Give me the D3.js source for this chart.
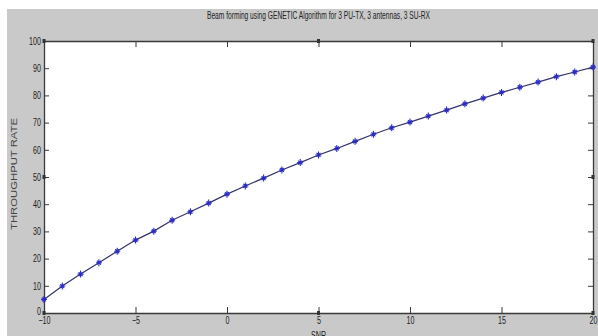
<!DOCTYPE html>
<html><head><meta charset="utf-8">
<script src="https://cdn.jsdelivr.net/npm/d3@7"></script>
<style>
body{margin:0;background:#fff;}
text{font-family:"Liberation Sans",Arial,sans-serif;}
</style></head>
<body><svg id="c" width="598" height="336"></svg>
<script>
const snr = d3.range(-10, 21);
const throughput = [5.0, 9.9, 14.3, 18.5, 22.7, 26.8, 30.1, 34.1, 37.2, 40.4, 43.7,
  46.7, 49.6, 52.6, 55.3, 58.1, 60.5, 63.1, 65.7, 68.1, 70.2,
  72.4, 74.6, 76.9, 79.0, 81.1, 83.0, 84.9, 86.9, 88.6, 90.4];
const xTicks = [-10, -5, 0, 5, 10, 15, 20];
const yTicks = [0, 10, 20, 30, 40, 50, 60, 70, 80, 90, 100];
const titleText = "Beam forming using GENETIC Algorithm for 3 PU-TX, 3 antennas, 3 SU-RX";
const xLabel = "SNR";
const yLabel = "THROUGHPUT RATE";

const svg = d3.select("#c");
const L = 44, R = 593, T = 41, B = 313;
const SX = 0.68; // horizontal squeeze for the narrow Matlab-like font
svg.append("rect").attr("x", 7).attr("y", 9).attr("width", 591).attr("height", 327).attr("fill", "#c9c9c9");
svg.append("rect").attr("x", L).attr("y", T).attr("width", R - L).attr("height", B - T).attr("fill", "#fff");

const x = d3.scaleLinear().domain([-10, 20]).range([L, R]);
const y = d3.scaleLinear().domain([0, 100]).range([B, T]);
const axCol = "#3a3a3a";

const axB = svg.append("g").attr("transform", `translate(0,${B})`)
  .call(d3.axisBottom(x).tickValues(xTicks).tickSizeInner(-6).tickSizeOuter(0).tickPadding(5).tickFormat(d3.format("d")));
const axT = svg.append("g").attr("transform", `translate(0,${T})`)
  .call(d3.axisTop(x).tickValues(xTicks).tickSizeInner(-6).tickSizeOuter(0).tickFormat(""));
const axL = svg.append("g").attr("transform", `translate(${L},0)`)
  .call(d3.axisLeft(y).tickValues(yTicks).tickSizeInner(-5).tickSizeOuter(0).tickPadding(0).tickFormat(d3.format("d")));
const axR = svg.append("g").attr("transform", `translate(${R},0)`)
  .call(d3.axisRight(y).tickValues(yTicks).tickSizeInner(-5).tickSizeOuter(0).tickFormat(""));
[axB, axT, axL, axR].forEach(g => {
  g.select(".domain").attr("stroke", axCol).attr("stroke-width", 1.3);
  g.selectAll(".tick line").attr("stroke", axCol).attr("stroke-width", 1);
  g.selectAll("text").attr("fill", "#222").attr("font-size", 10.5);
});
axB.selectAll("text").attr("dy", "0.62em").attr("transform", `scale(${SX},1)`);
axL.selectAll("text").attr("x", -3 / SX).attr("transform", `scale(${SX},1)`)
  .attr("dy", d => d === 0 ? "0.1em" : "0.32em");

// small dark squares seen on the axes
const sq = [[x(5), T], [x(20), T], [x(5), B], [x(20), B], [L, y(100)], [L, y(50)], [L, y(0)], [R, y(50)]];
svg.selectAll("rect.sq").data(sq).join("rect").attr("class", "sq")
  .attr("x", d => d[0] - 1.5).attr("y", d => d[1] - 2).attr("width", 3).attr("height", 4).attr("fill", "#333");

const line = d3.line().x((d, i) => x(snr[i])).y(d => y(d));
svg.append("path").datum(throughput).attr("d", line).attr("fill", "none")
  .attr("stroke", "#34346e").attr("stroke-width", 1.2);

const mk = svg.append("g").selectAll("g").data(throughput).join("g")
  .attr("transform", (d, i) => `translate(${x(snr[i])},${y(d)})`);
mk.append("path").attr("d", "M-3,0H3M0,-3.5V3.5M-2,-2L2,2M-2,2L2,-2")
  .attr("stroke", "#2b2bc4").attr("stroke-width", 1.1).attr("fill", "none");

svg.append("text").attr("x", (L + R) / 2).attr("y", 19).attr("text-anchor", "middle")
  .attr("font-size", 10).attr("fill", "#222")
  .attr("textLength", 223).attr("lengthAdjust", "spacingAndGlyphs").text(titleText);
svg.append("text").attr("transform", `translate(${(L + R) / 2},338.5) scale(${SX},1)`).attr("text-anchor", "middle")
  .attr("font-size", 10.5).attr("fill", "#222").text(xLabel);
svg.append("text").attr("transform", `translate(17,174) rotate(-90)`).attr("text-anchor", "middle")
  .attr("font-size", 9.5).attr("fill", "#444")
  .attr("textLength", 112).attr("lengthAdjust", "spacingAndGlyphs").text(yLabel);
</script></body></html>
